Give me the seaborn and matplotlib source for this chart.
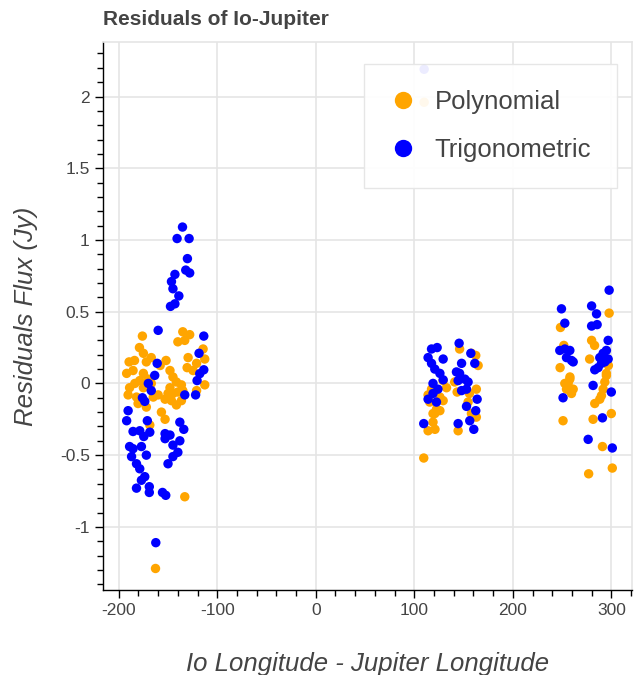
import numpy as np
import pandas as pd
import matplotlib
matplotlib.use("Agg")
import matplotlib.pyplot as plt
from matplotlib.ticker import MultipleLocator
from matplotlib.lines import Line2D
import seaborn as sns

# residuals
poly_lon = [-176, -135, -128, -140, -133, -179, -175, -189.5, -184, -192, -185.5,
            -172, -167, -158, -152, -129.6, -130.6, -124.6, -121, -114.4, -112.7,
            -175, -170, -178.7, -183.7, -189, -175, -167,
            -148, -145, -141.5, -136.4, -148, -145, -140, -135, -136.4, -141.5, -146.5, -150, -153,
            -190.5, -182, -180.4, -172, -165, -160, -156.7, -153, -112.7, -121, -168.5,
            -133, -162.7,
            110, 158, 162.4, 146, 164.8, 163, 141, 143.5, 117.5, 114, 115.7, 126, 129.3,
            122.5, 119, 126, 129.3, 132.7, 120.8, 119, 114, 121, 154.6, 158, 163, 144.5, 156,
            109.6,
            297.8, 248.4, 280, 283, 251.8, 278, 248, 258, 297, 295,
            257.9, 256.2, 252.8, 254.5, 259.6, 261.3, 295, 293.4, 291.7, 290, 288.3, 283.2,
            251, 281.5, 300, 291, 301, 277]
poly_res = [0.33, 0.36, 0.34, 0.29, 0.30, 0.25, 0.21, 0.15, 0.16, 0.07, 0.09,
            0.15, 0.18, 0.125, 0.16, 0.18, 0.11, 0.09, 0.14, 0.24, 0.17,
            0.07, 0.03, 0.02, 0.0, -0.03, -0.03, 0.0,
            0.09, 0.045, 0.01, -0.01, -0.03, -0.07, -0.06, -0.05, -0.12, -0.15, -0.12, -0.07, -0.11,
            -0.08, -0.095, -0.14, -0.165, -0.095, -0.08, -0.20, -0.25, -0.01, -0.05, -0.29,
            -0.79, -1.29,
            1.96, 0.21, 0.195, 0.24, 0.125, -0.04, 0.01, -0.06, -0.04, -0.08, -0.13, -0.095, -0.12,
            -0.18, -0.21, -0.19, 0.02, -0.03, -0.21, -0.27, -0.33, -0.32, -0.13, -0.21, -0.235, -0.33, -0.07,
            -0.52,
            0.49, 0.39, 0.30, 0.265, 0.265, 0.17, 0.11, 0.045, 0.125, 0.07,
            0.03, 0.0, 0.0, -0.04, -0.07, -0.04, 0.055, 0.01, -0.04, -0.085, -0.11, -0.14,
            -0.26, -0.25, -0.21, -0.44, -0.59, -0.63]

trig_lon = [-135.3, -140.8, -128.6, -130.3, -132, -128, -143, -146.5, -145, -139, -143, -147.5,
            -160, -113.7, -118.5, -161, -113.7, -117.8, -120.5, -163.5, -170, -167, -133, -122,
            -176, -173.6, -190.5, -192, -171, -138, -134, -185.5, -178.7, -174.6, -168.5,
            -153, -148, -153, -138, -145, -140, -145, -150,
            -189, -185.5, -177, -172, -187, -182, -178.7, -173.6, -177, -182, -169, -169,
            -155.6, -152.3, -162.4,
            110, 117.5, 123.2, 114, 117.5, 120.8, 129.3, 126, 129.3, 124, 119, 119, 114, 122.5, 109.6,
            145.5, 157.4, 161.4, 148, 142.8, 146, 144.5, 151.3, 154.6, 153, 148,
            163.8, 153, 162.4, 144.5, 156.3, 160.4,
            297.8, 249.4, 280, 285, 252.8, 280, 285.6, 296.8,
            247.7, 252.8, 257.9, 254.5, 259.6, 261.3,
            295, 291.7, 288.3, 293.4, 290, 286.6, 283.2, 296.8,
            281.5, 300, 251, 291, 276.5, 301]
trig_res = [1.09, 1.01, 1.01, 0.87, 0.79, 0.77, 0.76, 0.71, 0.66, 0.61, 0.555, 0.537,
            0.37, 0.33, 0.21, 0.14, 0.095, 0.068, 0.02, 0.056, 0.0, -0.05, -0.08, -0.08,
            -0.10, -0.125, -0.19, -0.26, -0.26, -0.27, -0.32, -0.335, -0.33, -0.37, -0.34,
            -0.35, -0.36, -0.385, -0.40, -0.43, -0.48, -0.51, -0.56,
            -0.44, -0.455, -0.44, -0.50, -0.51, -0.56, -0.595, -0.65, -0.675, -0.73, -0.72, -0.76,
            -0.76, -0.78, -1.11,
            2.19, 0.24, 0.25, 0.18, 0.14, 0.10, 0.17, 0.07, 0.025, -0.04, 0.0, -0.07, -0.11, -0.13, -0.28,
            0.28, 0.21, 0.14, 0.14, 0.08, 0.07, 0.02, 0.03, 0.01, -0.04, -0.05,
            -0.11, -0.16, -0.19, -0.28, -0.26, -0.32,
            0.65, 0.52, 0.54, 0.485, 0.42, 0.40, 0.41, 0.30,
            0.23, 0.24, 0.23, 0.18, 0.16, 0.15,
            0.23, 0.21, 0.18, 0.15, 0.14, 0.11, 0.095, 0.17,
            -0.014, -0.06, -0.10, -0.24, -0.39, -0.45]

df = pd.concat([
    pd.DataFrame({"lon": poly_lon, "res": poly_res, "fit": "Polynomial"}),
    pd.DataFrame({"lon": trig_lon, "res": trig_res, "fit": "Trigonometric"}),
])
colors = {"Polynomial": "#FFA500", "Trigonometric": "#0000FF"}

sns.set_style("white")
plt.rcParams["font.family"] = ["Liberation Sans", "DejaVu Sans"]
plt.rcParams["axes.unicode_minus"] = False

fig = plt.figure(figsize=(6.34, 6.75), dpi=100)
ax = fig.add_axes([103 / 634, 1 - 590 / 675, 529 / 634, 548 / 675])

sns.scatterplot(data=df, x="lon", y="res", hue="fit", palette=colors,
                s=46, linewidth=0, alpha=1, legend=False, ax=ax, zorder=3)

ax.set_xlim(-216, 321)
ax.set_ylim(-1.44, 2.38)
ax.xaxis.set_major_locator(MultipleLocator(100))
ax.xaxis.set_minor_locator(MultipleLocator(20))
ax.yaxis.set_major_locator(MultipleLocator(0.5))
ax.yaxis.set_minor_locator(MultipleLocator(0.1))
ax.yaxis.set_major_formatter(lambda v, p: "%g" % v)

ax.grid(True, which="major", color="#e5e5e5", linewidth=1.2, zorder=0)
ax.set_axisbelow(True)
for side in ["top", "right"]:
    ax.spines[side].set_color("#e5e5e5")
    ax.spines[side].set_linewidth(1.2)
for side in ["left", "bottom"]:
    ax.spines[side].set_color("black")
    ax.spines[side].set_linewidth(1.0)
ax.tick_params(which="major", direction="out", length=6, width=1, color="black",
               labelsize=12.5, labelcolor="#444444", left=True, bottom=True)
ax.tick_params(which="minor", direction="out", length=4, width=1, color="black",
               left=True, bottom=True)

ax.set_xlabel("Io Longitude - Jupiter Longitude", fontsize=18.5, style="italic",
              color="#444444", labelpad=24)
ax.set_ylabel("Residuals Flux (Jy)", fontsize=18.5, style="italic",
              color="#444444", labelpad=16)
ax.set_title("Residuals of Io-Jupiter", loc="left", fontsize=15, fontweight="bold",
             color="#444444", pad=12)

handles = [Line2D([], [], marker="o", linestyle="", markersize=12.5,
                  markerfacecolor=c, markeredgewidth=0, label=k)
           for k, c in colors.items()]
leg = ax.legend(handles=handles, loc="upper right", bbox_to_anchor=(0.9716, 0.96),
                fontsize=18.5, frameon=True, fancybox=False, borderpad=1.0,
                handlelength=1.0, labelspacing=0.95, handletextpad=0.75,
                borderaxespad=0)
leg.get_frame().set_edgecolor("#e5e5e5")
leg.get_frame().set_facecolor("white")
leg.get_frame().set_alpha(0.93)
for t in leg.get_texts():
    t.set_color("#444444")
leg.set_zorder(5)

fig.savefig("out.png", dpi=100)
